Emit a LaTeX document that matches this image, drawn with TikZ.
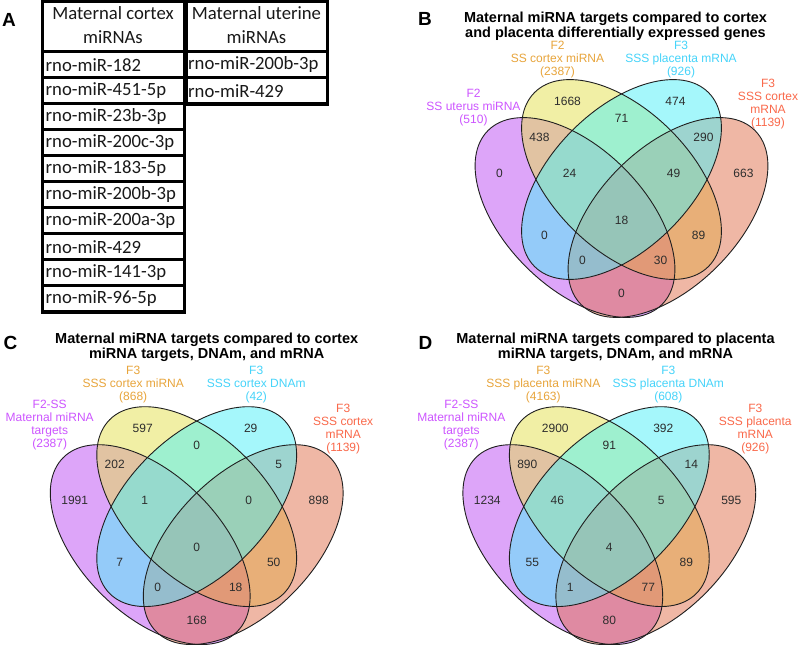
\documentclass[tikz,border=0pt]{standalone}
\usepackage{fontspec}
\setmainfont{Liberation Sans}
\newfontfamily\tabfont{Carlito}
\definecolor{cP}{RGB}{189,77,245}
\definecolor{cY}{RGB}{229,225,77}
\definecolor{cC}{RGB}{77,241,249}
\definecolor{cS}{RGB}{225,113,77}
\definecolor{tP}{RGB}{205,85,255}
\definecolor{tY}{RGB}{232,165,60}
\definecolor{tC}{RGB}{70,212,250}
\definecolor{tS}{RGB}{250,105,75}
\definecolor{numc}{RGB}{45,45,45}
\definecolor{tabtxtc}{RGB}{25,25,25}
\newcommand\myvennshapes{%
  \fill[cP, fill opacity=0.5, shift={(-46.5,38)}, rotate=-45] (0,0) ellipse [x radius=123, y radius=69.5];
  \fill[cY, fill opacity=0.5, rotate=-45] (0,0) ellipse [x radius=123, y radius=69.5];
  \fill[cS, fill opacity=0.5, shift={(46.5,38)}, rotate=45] (0,0) ellipse [x radius=123, y radius=69.5];
  \fill[cC, fill opacity=0.5, rotate=45] (0,0) ellipse [x radius=123, y radius=69.5];
  \draw[vline, shift={(-46.5,38)}, rotate=-45] (0,0) ellipse [x radius=123, y radius=69.5];
  \draw[vline, rotate=-45] (0,0) ellipse [x radius=123, y radius=69.5];
  \draw[vline, rotate=45] (0,0) ellipse [x radius=123, y radius=69.5];
  \draw[vline, shift={(46.5,38)}, rotate=45] (0,0) ellipse [x radius=123, y radius=69.5];
}
\begin{document}
\begin{tikzpicture}[x=1pt,y=-1pt,
  vline/.style={draw=black!88, line width=0.9pt},
  num/.style={font=\fontsize{12}{14}\selectfont, text=numc, inner sep=0pt},
  lab/.style={font=\fontsize{12}{13}\selectfont, align=center, inner sep=0pt},
  ttl/.style={font=\fontsize{14.5}{15}\selectfont\bfseries, align=center, inner sep=0pt},
  letter/.style={font=\fontsize{19}{20}\selectfont\bfseries, inner sep=0pt},
  tabtxt/.style={font=\tabfont\fontsize{18.7}{24}\selectfont, text=tabtxtc, inner sep=0pt},
  tabhead/.style={font=\tabfont\fontsize{18.7}{24}\selectfont, text=tabtxtc, inner sep=0pt, align=center}]
\useasboundingbox (0,0) rectangle (800,645);
\fill[white] (0,0) rectangle (800,645);

% ---------------- Panel A (table) ----------------
\node[letter] (letA) at (9,20) {A};
\fill[black] (40.5,0) rectangle (185.5,313.5);
\fill[black] (185.5,0) rectangle (328.5,106);
\fill[white] (43.5,3) rectangle (182.5,50.2);
\fill[white] (187.5,3) rectangle (325.5,50.2);
\node[tabhead] (hL) at (113,24.7) {Maternal cortex\\miRNAs};
\node[tabhead] (hR) at (256.5,24.7) {Maternal uterine\\miRNAs};
\foreach \t [count=\i from 0] in {rno-miR-182,rno-miR-451-5p,rno-miR-23b-3p,rno-miR-200c-3p,rno-miR-183-5p,rno-miR-200b-3p,rno-miR-200a-3p,rno-miR-429,rno-miR-141-3p,rno-miR-96-5p}{
  \fill[white] (43.5,{51.7+26*\i+1.5}) rectangle (182.5,{51.7+26*\i+24.5});
  \node[tabtxt, anchor=west] (rowL\i) at (45.5,{51.7+26*\i+13}) {\t};
}
\foreach \t [count=\i from 0] in {rno-miR-200b-3p,rno-miR-429}{
  \fill[white] (187.5,{51.7+26*\i+1.5}) rectangle (325.5,{51.7+26*\i+24.5});
  \node[tabtxt, anchor=west] (rowR\i) at (188,{51.7+26*\i+13}) {\t};
}

% ---------------- Panel B ----------------
\node[letter] (letB) at (425,19) {B};
\node[ttl] (ttlB) at (615.5,25.8) {Maternal miRNA targets compared to cortex\\and placenta differentially expressed genes};
\begin{scope}[shift={(621.5,179.5)}]
  \myvennshapes
  \node[lab, text=tP] (bLP) at (-148,-71.6) {F2\\SS uterus miRNA\\(510)};
  \node[lab, text=tY] (bLY) at (-64,-120) {F2\\SS cortex miRNA\\(2387)};
  \node[lab, text=tC] (bLC) at (59.5,-120) {F3\\SSS placenta mRNA\\(926)};
  \node[lab, text=tS] (bLS) at (146.5,-75.8) {F3\\SSS cortex\\mRNA\\(1139)};
  \node[num] (bA) at (-122,-6) {0};
  \node[num] (bB) at (-54,-78) {1668};
  \node[num] (bC) at (54,-78) {474};
  \node[num] (bD) at (122,-6) {663};
  \node[num] (bAB) at (-82,-42) {438};
  \node[num] (bBC) at (0,-61) {71};
  \node[num] (bCD) at (82,-42) {290};
  \node[num] (bABC) at (-52,-6) {24};
  \node[num] (bBCD) at (52,-6) {49};
  \node[num] (bABCD) at (0,40.5) {18};
  \node[num] (bAC) at (-77,55.5) {0};
  \node[num] (bBD) at (77,55.5) {89};
  \node[num] (bACD) at (-39,81) {0};
  \node[num] (bABD) at (39,81) {30};
  \node[num] (bAD) at (0,114) {0};
\end{scope}

% ---------------- Panel C ----------------
\node[letter] (letC) at (10.5,343) {C};
\node[ttl] (ttlC) at (206.7,347) {Maternal miRNA targets compared to cortex\\miRNA targets, DNAm, and mRNA};
\begin{scope}[shift={(196.7,506.6)}]
  \myvennshapes
  \node[lab, text=tP] (cLP) at (-147,-82) {F2-SS\\Maternal miRNA\\targets\\(2387)};
  \node[lab, text=tY] (cLY) at (-63.5,-122) {F3\\SSS cortex miRNA\\(868)};
  \node[lab, text=tC] (cLC) at (59.5,-122) {F3\\SSS cortex DNAm\\(42)};
  \node[lab, text=tS] (cLS) at (146.5,-77.4) {F3\\SSS cortex\\mRNA\\(1139)};
  \node[num] (cA) at (-122,-6) {1991};
  \node[num] (cB) at (-54,-78) {597};
  \node[num] (cC) at (54,-78) {29};
  \node[num] (cD) at (122,-6) {898};
  \node[num] (cAB) at (-82,-42) {202};
  \node[num] (cBC) at (0,-61) {0};
  \node[num] (cCD) at (82,-42) {5};
  \node[num] (cABC) at (-52,-6) {1};
  \node[num] (cBCD) at (52,-6) {0};
  \node[num] (cABCD) at (0,40.5) {0};
  \node[num] (cAC) at (-77,55.5) {7};
  \node[num] (cBD) at (77,55.5) {50};
  \node[num] (cACD) at (-39,81) {0};
  \node[num] (cABD) at (39,81) {18};
  \node[num] (cAD) at (0,114) {168};
\end{scope}

% ---------------- Panel D ----------------
\node[letter] (letD) at (425.5,342.5) {D};
\node[ttl] (ttlD) at (615.5,347) {Maternal miRNA targets compared to placenta\\miRNA targets, DNAm, and mRNA};
\begin{scope}[shift={(609.3,506.6)}]
  \myvennshapes
  \node[lab, text=tP] (dLP) at (-148,-82) {F2-SS\\Maternal miRNA\\targets\\(2387)};
  \node[lab, text=tY] (dLY) at (-66,-122) {F3\\SSS placenta miRNA\\(4163)};
  \node[lab, text=tC] (dLC) at (59,-122) {F3\\SSS placenta DNAm\\(608)};
  \node[lab, text=tS] (dLS) at (146,-77.4) {F3\\SSS placenta\\mRNA\\(926)};
  \node[num] (dA) at (-122,-6) {1234};
  \node[num] (dB) at (-54,-78) {2900};
  \node[num] (dC) at (54,-78) {392};
  \node[num] (dD) at (122,-6) {595};
  \node[num] (dAB) at (-82,-42) {890};
  \node[num] (dBC) at (0,-61) {91};
  \node[num] (dCD) at (82,-42) {14};
  \node[num] (dABC) at (-52,-6) {46};
  \node[num] (dBCD) at (52,-6) {5};
  \node[num] (dABCD) at (0,40.5) {4};
  \node[num] (dAC) at (-77,55.5) {55};
  \node[num] (dBD) at (77,55.5) {89};
  \node[num] (dACD) at (-39,81) {1};
  \node[num] (dABD) at (39,81) {77};
  \node[num] (dAD) at (0,114) {80};
\end{scope}
\end{tikzpicture}
\end{document}
